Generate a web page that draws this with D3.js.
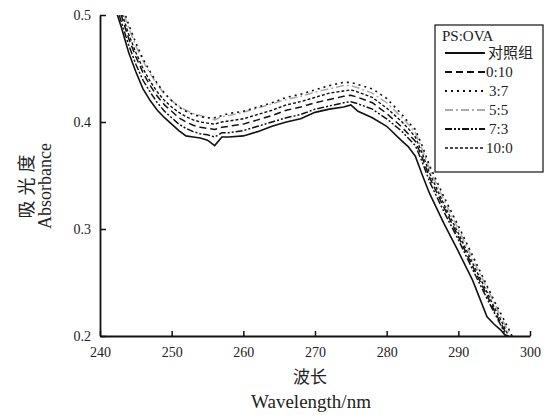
<!DOCTYPE html>
<html>
<head>
<meta charset="utf-8">
<script src="https://cdn.jsdelivr.net/npm/d3@7"></script>
<style>
  body { margin: 0; background: #fff; }
  svg { display: block; }
  .tick text { font-family: "Liberation Serif", serif; font-size: 14px; fill: #222; }
</style>
</head>
<body>
<svg id="chart" width="544" height="415"></svg>
<script>
// wavelength samples (nm)
const wavelengths = [242, 243, 244, 245, 246, 247, 248, 249, 250, 251, 252, 253, 254, 255, 256, 257, 258, 260, 262, 264, 266, 268, 270, 272, 274, 275, 276, 278, 280, 282, 283, 284, 285, 286, 288, 290, 292, 294, 295, 296, 297, 298];

// absorbance per group
const control = [0.509, 0.488, 0.465, 0.447, 0.431, 0.420, 0.411, 0.404, 0.398, 0.392, 0.387, 0.386, 0.385, 0.383, 0.378, 0.386, 0.386, 0.387, 0.391, 0.396, 0.400, 0.403, 0.409, 0.412, 0.414, 0.416, 0.410, 0.404, 0.396, 0.383, 0.377, 0.368, 0.350, 0.333, 0.305, 0.279, 0.252, 0.218, 0.211, 0.205, 0.197, 0.190];
const r0_10 = [0.520, 0.499, 0.478, 0.461, 0.446, 0.434, 0.424, 0.416, 0.410, 0.404, 0.400, 0.397, 0.395, 0.394, 0.393, 0.395, 0.396, 0.398, 0.402, 0.406, 0.411, 0.414, 0.418, 0.421, 0.424, 0.425, 0.423, 0.418, 0.408, 0.396, 0.389, 0.382, 0.366, 0.348, 0.320, 0.293, 0.265, 0.238, 0.224, 0.211, 0.198, 0.185];
const r3_7 = [0.531, 0.511, 0.491, 0.474, 0.459, 0.447, 0.436, 0.427, 0.420, 0.414, 0.410, 0.407, 0.405, 0.404, 0.404, 0.406, 0.408, 0.410, 0.414, 0.418, 0.423, 0.426, 0.430, 0.434, 0.437, 0.437, 0.435, 0.431, 0.422, 0.408, 0.400, 0.393, 0.377, 0.359, 0.330, 0.303, 0.275, 0.247, 0.233, 0.220, 0.207, 0.193];
const r5_5 = [0.528, 0.508, 0.488, 0.471, 0.457, 0.445, 0.435, 0.426, 0.420, 0.415, 0.411, 0.408, 0.406, 0.404, 0.402, 0.405, 0.406, 0.409, 0.413, 0.417, 0.421, 0.424, 0.428, 0.431, 0.434, 0.434, 0.432, 0.427, 0.418, 0.405, 0.398, 0.390, 0.374, 0.356, 0.327, 0.300, 0.272, 0.245, 0.231, 0.217, 0.204, 0.190];
const r7_3 = [0.515, 0.493, 0.472, 0.454, 0.439, 0.428, 0.418, 0.410, 0.404, 0.398, 0.394, 0.391, 0.389, 0.388, 0.386, 0.390, 0.390, 0.392, 0.396, 0.400, 0.404, 0.407, 0.412, 0.415, 0.418, 0.419, 0.417, 0.412, 0.403, 0.392, 0.385, 0.378, 0.362, 0.344, 0.316, 0.290, 0.262, 0.235, 0.222, 0.209, 0.196, 0.183];
const r10_0 = [0.523, 0.503, 0.482, 0.465, 0.450, 0.438, 0.428, 0.420, 0.414, 0.409, 0.405, 0.402, 0.400, 0.399, 0.398, 0.400, 0.401, 0.403, 0.407, 0.411, 0.416, 0.419, 0.423, 0.427, 0.429, 0.430, 0.428, 0.423, 0.413, 0.401, 0.394, 0.386, 0.370, 0.352, 0.323, 0.296, 0.268, 0.241, 0.227, 0.214, 0.200, 0.187];

const seriesNames = ["对照组", "0:10", "3:7", "5:5", "7:3", "10:0"];
const seriesValues = [control, r0_10, r3_7, r5_5, r7_3, r10_0];

const xTicks = [240, 250, 260, 270, 280, 290, 300];
const yTicks = [0.2, 0.3, 0.4, 0.5];

// line styles for each group
const styles = {
  "对照组": { color: "#111", dash: null, width: 1.6 },
  "0:10": { color: "#111", dash: "7,4", width: 1.5 },
  "3:7": { color: "#111", dash: "2,4", width: 1.6 },
  "5:5": { color: "#aaa", dash: "8,3,2,3", width: 1.5 },
  "7:3": { color: "#111", dash: "7,2,2,2,2,2", width: 1.5 },
  "10:0": { color: "#111", dash: "3,2", width: 1.4 },
};

const margin = { top: 15, right: 14, bottom: 79, left: 100 };
const width = 544 - margin.left - margin.right;
const height = 415 - margin.top - margin.bottom;

const x = d3.scaleLinear().domain([240, 300]).range([0, width]);
const y = d3.scaleLinear().domain([0.2, 0.5]).range([height, 0]);

const svg = d3.select("#chart");
const g = svg.append("g").attr("transform", `translate(${margin.left},${margin.top})`);

g.append("clipPath").attr("id", "plot-clip")
  .append("rect").attr("x", 0).attr("y", 0).attr("width", width).attr("height", height);

const data = seriesNames.map((name, i) => ({
  name: name,
  values: wavelengths.map((w, j) => ({ w: w, v: seriesValues[i][j] })),
}));

const line = d3.line()
  .x((d) => x(d.w))
  .y((d) => y(d.v));

// draw control last so it sits on top
const drawOrder = ["5:5", "3:7", "10:0", "0:10", "7:3", "对照组"];
g.append("g").attr("clip-path", "url(#plot-clip)")
  .selectAll("path")
  .data(drawOrder.map((n) => data.find((d) => d.name === n)))
  .enter()
  .append("path")
  .attr("d", (d) => line(d.values))
  .attr("fill", "none")
  .attr("stroke", (d) => styles[d.name].color)
  .attr("stroke-width", (d) => styles[d.name].width)
  .attr("stroke-dasharray", (d) => styles[d.name].dash);

// axes, ticks pointing inward
const xAxis = g.append("g")
  .attr("transform", `translate(0,${height})`)
  .call(d3.axisBottom(x).tickValues(xTicks).tickSizeInner(-5).tickSizeOuter(0).tickPadding(9));
const yAxis = g.append("g")
  .call(d3.axisLeft(y).tickValues(yTicks).tickSizeInner(-6).tickSizeOuter(0).tickPadding(9).tickFormat(d3.format(".1f")));

[xAxis, yAxis].forEach((a) => {
  a.select(".domain").attr("stroke", "#111").attr("stroke-width", 1.8);
  a.selectAll(".tick line").attr("stroke", "#111").attr("stroke-width", 1.5);
});
xAxis.selectAll(".tick text").attr("dy", "0.85em");

// axis titles
svg.append("text")
  .attr("x", 310).attr("y", 383)
  .attr("text-anchor", "middle")
  .style("font-family", "'Noto Sans CJK SC', sans-serif")
  .style("font-size", "17px").style("fill", "#222")
  .text("波长");
svg.append("text")
  .attr("x", 311).attr("y", 408)
  .attr("text-anchor", "middle")
  .style("font-family", "'Liberation Serif', serif")
  .style("font-size", "19px").style("fill", "#222")
  .text("Wavelength/nm");

svg.append("text")
  .attr("transform", "translate(33,184) rotate(-90)")
  .attr("text-anchor", "middle")
  .style("font-family", "'Noto Sans CJK SC', sans-serif")
  .style("font-size", "18px").style("fill", "#222")
  .style("letter-spacing", "5px")
  .text("吸光度");
svg.append("text")
  .attr("transform", "translate(51,186) rotate(-90)")
  .attr("text-anchor", "middle")
  .style("font-family", "'Liberation Serif', serif")
  .style("font-size", "18px").style("fill", "#222")
  .text("Absorbance");

// legend
const legend = svg.append("g").attr("transform", "translate(435,25)");
legend.append("rect")
  .attr("width", 108).attr("height", 147)
  .attr("fill", "#fff").attr("stroke", "#111").attr("stroke-width", 1.2);
legend.append("text")
  .attr("x", 7).attr("y", 16)
  .style("font-family", "'Liberation Serif', serif")
  .style("font-size", "15px").style("fill", "#222")
  .text("PS:OVA");

const items = legend.selectAll(".legend-item")
  .data(seriesNames)
  .enter()
  .append("g")
  .attr("class", "legend-item")
  .attr("transform", (d, i) => `translate(0,${28 + i * 19})`);

items.append("line")
  .attr("x1", 10).attr("x2", 50)
  .attr("stroke", (d) => styles[d].color)
  .attr("stroke-width", (d) => styles[d].width + 0.3)
  .attr("stroke-dasharray", (d) => styles[d].dash);

items.append("text")
  .attr("x", (d) => (d === "对照组" ? 53 : d === "3:7" || d === "5:5" || d === "7:3" ? 54 : 51))
  .attr("y", 5)
  .style("font-family", (d) => (d === "对照组" ? "'Noto Sans CJK SC', sans-serif" : "'Liberation Serif', serif"))
  .style("font-size", "15px").style("fill", "#222")
  .text((d) => d);
</script>
</body>
</html>
